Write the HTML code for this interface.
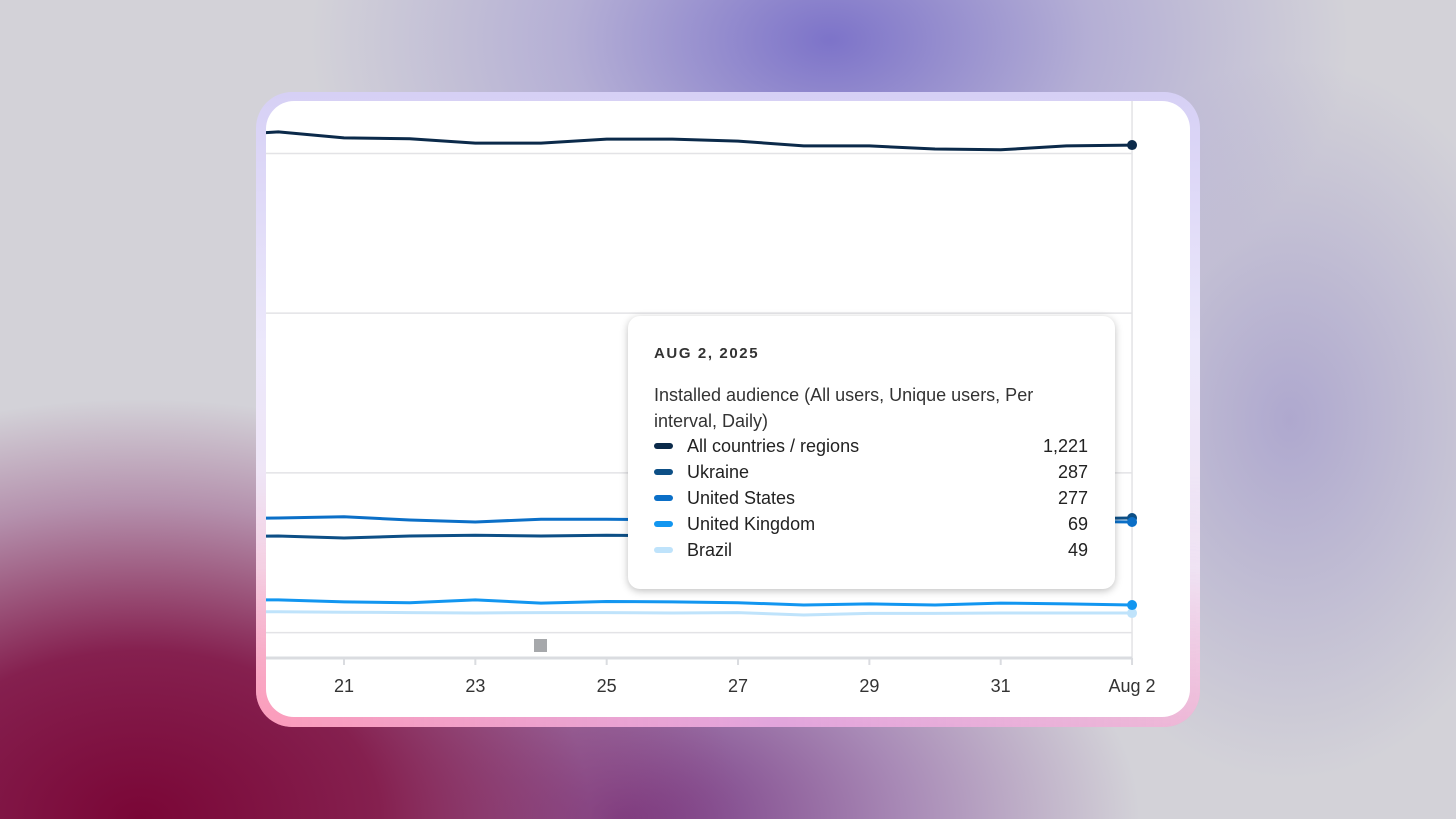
<!DOCTYPE html>
<html><head><meta charset="utf-8"><style>
html,body{margin:0;padding:0;width:1456px;height:819px;overflow:hidden;font-family:"Liberation Sans",sans-serif}
#bg{position:absolute;left:0;top:0;width:1456px;height:819px;background:
radial-gradient(ellipse 520px 330px at 830px 40px,rgba(120,110,200,0.95),rgba(150,140,210,0.5) 50%,rgba(200,200,215,0) 100%),
radial-gradient(ellipse 600px 420px at 140px 819px,#7a0636 0%,#85204f 40%,rgba(150,80,130,0.5) 75%,rgba(210,208,214,0) 100%),
radial-gradient(ellipse 520px 300px at 620px 819px,rgba(110,40,120,0.95) 0%,rgba(140,90,160,0.6) 55%,rgba(210,208,214,0) 100%),
radial-gradient(ellipse 260px 360px at 1290px 420px,rgba(150,140,200,0.6),rgba(200,200,215,0) 100%),
#d3d2d8}
#frame{position:absolute;left:256px;top:92px;width:944px;height:635px;border-radius:36px;background:linear-gradient(180deg,#d6d0f5 0%,#ece8fb 40%,#f1e4f3 75%,#f2a9c8 100%)}
#frame2{position:absolute;left:256px;top:92px;width:944px;height:635px;border-radius:36px;background:linear-gradient(90deg,rgba(255,150,180,0.7) 0%,rgba(210,160,240,0.5) 55%,rgba(230,220,250,0.3) 100%);-webkit-mask:linear-gradient(180deg,transparent 60%,#000 100%)}
#tip{position:absolute;left:628px;top:316px;width:487px;height:273px;background:#fff;border-radius:12px;box-shadow:0 2px 8px rgba(0,0,0,0.25);font-family:"Liberation Sans",sans-serif;color:#222}
.date{position:absolute;left:26px;top:29px;font-size:15px;letter-spacing:1.6px;font-weight:bold;color:#333}
.ttl{position:absolute;left:26px;top:66px;font-size:18px;line-height:26px;width:436px;color:#333}
.row{position:absolute;left:26px;width:434px;height:26px;font-size:18px;line-height:26px;color:#222}
.row .sw{position:absolute;left:0;top:10px;width:19px;height:6px;border-radius:3px}
.row .lb{position:absolute;left:33px}
.row .v{position:absolute;right:0}
</style></head><body>
<div id="bg"></div>
<div id="frame"></div>
<div id="frame2"></div>
<svg id="chart" width="1456" height="819" style="position:absolute;left:0;top:0">
<defs><clipPath id="cp"><rect x="266" y="101" width="924" height="616" rx="28"/></clipPath></defs>
<rect x="266" y="101" width="924" height="616" rx="28" fill="#fff"/>
<g id="grid" clip-path="url(#cp)"></g>
<g id="series" clip-path="url(#cp)"></g>
<rect x="534" y="639" width="13" height="13" fill="#a6a8ab"/>
</svg>
<div id="tip">
<div class="date">AUG 2, 2025</div>
<div class="ttl">Installed audience (All users, Unique users, Per interval, Daily)</div>
<div class="row" style="top:117px"><span class="sw" style="background:#0b2a4a"></span><span class="lb">All countries / regions</span><span class="v">1,221</span></div>
<div class="row" style="top:143px"><span class="sw" style="background:#0d4f86"></span><span class="lb">Ukraine</span><span class="v">287</span></div>
<div class="row" style="top:169px"><span class="sw" style="background:#0b6fc7"></span><span class="lb">United States</span><span class="v">277</span></div>
<div class="row" style="top:195px"><span class="sw" style="background:#1296f0"></span><span class="lb">United Kingdom</span><span class="v">69</span></div>
<div class="row" style="top:221px"><span class="sw" style="background:#bfe3fb"></span><span class="lb">Brazil</span><span class="v">49</span></div>
</div>
<script>
const days=[19,20,21,22,23,24,25,26,27,28,29,30,31,32,33];
const tickDays=[21,23,25,27,29,31,33];
const tickLabels=["21","23","25","27","29","31","Aug 2"];
const yTicks=[0,400,800,1200];
const allCountries=[1245,1254,1239,1237,1226,1226,1236,1236,1231,1219,1219,1211,1209,1219,1221];
const ukraine=[240,242,237,242,244,242,244,242,250,258,265,272,280,285,287];
const unitedStates=[286,287,290,282,277,284,284,282,280,281,279,278,279,279,277];
const unitedKingdom=[82,82,77,75,82,74,78,77,75,69,72,69,74,72,69];
const brazil=[52,52,51,50,49,50,50,49,50,44,48,48,49,49,49];
const seriesList=[["brazil",brazil,"#bfe3fb"],["uk",unitedKingdom,"#1296f0"],["ukraine",ukraine,"#0d4f86"],["us",unitedStates,"#0b6fc7"],["all",allCountries,"#0b2a4a"]];
const NS="http://www.w3.org/2000/svg";
const X=d=>344+(d-21)*65.67;
const Y=v=>632.6-v*0.3993;
const grid=document.getElementById('grid'),ser=document.getElementById('series'),svg=document.getElementById('chart');
function mk(tag,at,parent){const e=document.createElementNS(NS,tag);for(const k in at)e.setAttribute(k,at[k]);parent.appendChild(e);return e;}
yTicks.forEach(v=>{const l=mk('line',{x1:266,x2:X(33),y1:Y(v),y2:Y(v),stroke:'#e3e3e6','stroke-width':1.5},grid);

});
const vg=mk('line',{x1:X(33),x2:X(33),y1:101,y2:658,stroke:'#e3e3e6','stroke-width':1.5},grid);


const ax=mk('line',{x1:266,x2:X(33),y1:658,y2:658,stroke:'#dadce0','stroke-width':3},grid);


tickDays.forEach((d,i)=>{const t=mk('line',{x1:X(d),x2:X(d),y1:658,y2:665,stroke:'#dadce0','stroke-width':2},svg);


const tx=mk('text',{x:X(d),y:692,'text-anchor':'middle','font-size':18,fill:'#333','font-family':'Liberation Sans, sans-serif'},svg);
tx.textContent=tickLabels[i];

});
seriesList.forEach(([n,vals,c])=>{
let d='';vals.forEach((v,i)=>{d+=(i?'L':'M')+X(days[i]).toFixed(1)+','+Y(v).toFixed(1);});
const p=mk('path',{d:d,fill:'none',stroke:c,'stroke-width':3,'stroke-linejoin':'round'},ser);


const last=vals.length-1;
const c2=mk('circle',{cx:X(days[last]),cy:Y(vals[last]),r:5,fill:c},ser);

});
</script>
</body></html>
